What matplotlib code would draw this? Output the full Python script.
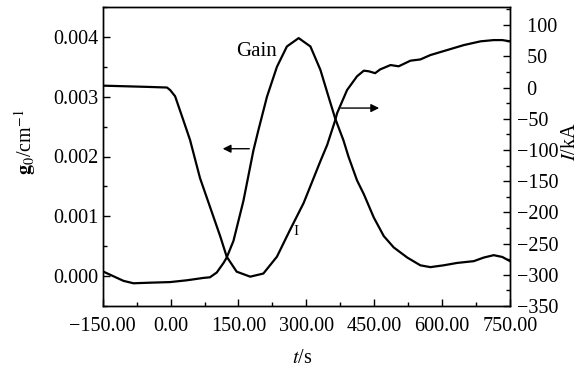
import matplotlib
matplotlib.use("Agg")
import matplotlib.pyplot as plt
from matplotlib.ticker import MultipleLocator, FuncFormatter

# Gain (left axis)
t_gain = [-150, -127, -104, -82, -45, -1, 36, 73, 87, 102,
          117, 124, 139, 161, 183, 194, 213, 235, 257, 283,
          309, 331, 349, 364, 382, 393, 412, 427, 449, 471,
          493, 523, 552, 574, 603, 633, 670, 692, 714, 733, 750]
gain = [0.00008, 0.0, -0.00008, -0.00012, -0.00011, -0.0001, -0.00007, -0.00003, -0.00002, 0.00006,
        0.00022, 0.00031, 0.00059, 0.00126, 0.0021, 0.00244, 0.003, 0.0035, 0.00384, 0.00398,
        0.00384, 0.00345, 0.003, 0.00263, 0.00227, 0.002, 0.0016, 0.00137, 0.00098, 0.00067,
        0.00048, 0.00031, 0.00018, 0.00015, 0.00018, 0.00022, 0.00025, 0.00031, 0.00035, 0.00032, 0.00025]

# Current I (right axis)
t_I = [-150, -100, -50, -8, -1, 10, 28, 43, 65, 87,
       110, 124, 146, 176, 205, 235, 264, 294, 331, 346,
       364, 368, 390, 412, 427, 438, 452, 463, 486, 504,
       530, 552, 574, 611, 648, 685, 714, 733, 750]
current = [3, 2, 1, 0, -4, -14, -52, -84, -145, -191,
           -239, -271, -295, -303, -298, -271, -228, -185, -118, -92,
           -52, -41, -4, 18, 27, 26, 23, 29, 36, 34,
           43, 45, 52, 60, 68, 74, 76, 76, 74]

x_ticks = [-150, 0, 150, 300, 450, 600, 750]
left_ticks = [0.000, 0.001, 0.002, 0.003, 0.004]
right_ticks = [-350, -300, -250, -200, -150, -100, -50, 0, 50, 100]

plt.rcParams['font.family'] = ['Liberation Serif', 'DejaVu Serif']
plt.rcParams['mathtext.fontset'] = 'stix'
FS = 14.5

fig = plt.figure(figsize=(5.85, 3.7), dpi=100)
ax = fig.add_axes([102.7/585, 1 - 306/370, (510-102.7)/585, 299/370])
ax2 = ax.twinx()

ax.plot(t_gain, gain, color='black', lw=1.6)
ax2.plot(t_I, current, color='black', lw=1.6)

ax.set_xlim(-150, 750)
ax.set_ylim(-0.0005, 0.0045)
ax2.set_ylim(-350, 129)

ax.set_xticks(x_ticks)
ax.xaxis.set_minor_locator(MultipleLocator(75))
ax.set_yticks(left_ticks)
ax.yaxis.set_minor_locator(MultipleLocator(0.0005))
ax2.set_yticks(right_ticks)
ax2.yaxis.set_minor_locator(MultipleLocator(25))


def xfmt(v, p):
    return f"{v:.2f}".replace('-', '\u2212')


def rfmt(v, p):
    n = int(round(v))
    return f"\u2212{-n}" if n < 0 else f"\u2002{n}"


ax.xaxis.set_major_formatter(FuncFormatter(xfmt))
ax.yaxis.set_major_formatter(FuncFormatter(lambda v, p: f"{v:.3f}"))
ax2.yaxis.set_major_formatter(FuncFormatter(rfmt))

for a in (ax, ax2):
    a.tick_params(which='major', direction='in', length=5, width=1, labelsize=FS, pad=3)
    a.tick_params(which='minor', direction='in', length=3, width=1)
    for s in a.spines.values():
        s.set_linewidth(1.0)
ax.tick_params(axis='x', which='both', top=False)
ax.tick_params(axis='x', which='major', pad=8)
ax2.tick_params(axis='y', which='major', pad=5)

ax.set_xlabel(r'$t$/s', fontsize=FS)
ax.xaxis.set_label_coords(0.49, -0.145)
ax.set_ylabel(r'$\mathbf{g}_{0}$/cm$^{-1}$', fontsize=FS)
ax.yaxis.set_label_coords(-0.16, 0.55)
ax2.set_ylabel(r'$I$/kA', fontsize=FS)
ax2.yaxis.set_label_coords(1.125, 0.55)

ax.text(190, 0.00375, 'Gain', fontsize=15, ha='center', va='center')
ax.text(278, 0.00074, 'I', fontsize=11, ha='center', va='center')

ax.annotate('', xy=(109, 0.00213), xytext=(180, 0.00213),
            arrowprops=dict(arrowstyle='-|>', color='black', lw=1, mutation_scale=12))
ax.annotate('', xy=(467, 0.00281), xytext=(370, 0.00281),
            arrowprops=dict(arrowstyle='-|>', color='black', lw=1, mutation_scale=12))

fig.savefig('out.png', dpi=100)
